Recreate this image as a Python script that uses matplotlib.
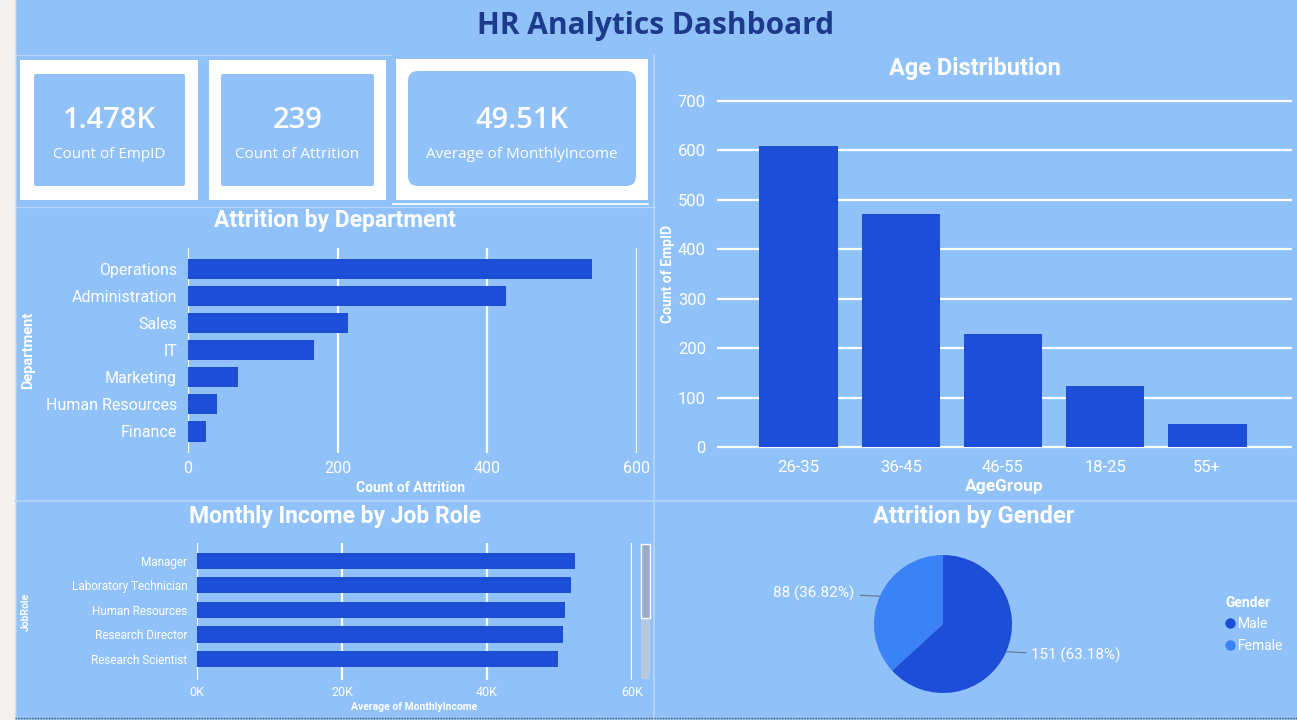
import matplotlib
matplotlib.use("Agg")
import matplotlib.pyplot as plt
import numpy as np
from matplotlib.patches import Rectangle, FancyBboxPatch
from matplotlib.lines import Line2D

W, H = 1297, 720

# ---- data ----
kpi_values = ["1.478K", "239", "49.51K"]
kpi_labels = ["Count of EmpID", "Count of Attrition", "Average of MonthlyIncome"]

departments = ["Operations", "Administration", "Sales", "IT", "Marketing",
               "Human Resources", "Finance"]
dept_attrition = [540, 425, 214, 169, 67, 39, 24]
dept_ticks = [0, 200, 400, 600]

age_groups = ["26-35", "36-45", "46-55", "18-25", "55+"]
age_counts = [609, 471, 228, 123, 47]
age_ticks = [0, 100, 200, 300, 400, 500, 600, 700]

job_roles = ["Manager", "Laboratory Technician", "Human Resources",
             "Research Director", "Research Scientist"]
job_income = [52100, 51600, 50700, 50500, 49800]
income_ticks = [0, 20000, 40000, 60000]
income_tick_labels = ["0K", "20K", "40K", "60K"]

genders = ["Male", "Female"]
gender_attrition = [151, 88]

# ---- colours / fonts ----
BG = "#90C2F9"
BAR = "#1D4ED8"
FEMALE = "#3B82F6"
NAVY = "#1E3A8A"
LINE = "#B7D6FB"
CHART_FONT = "Roboto"
KPI_FONT = "Open Sans"

plt.rcParams["font.family"] = [CHART_FONT, "DejaVu Sans"]

fig = plt.figure(figsize=(W / 100, H / 100), dpi=100)
fig.patch.set_facecolor(BG)

# background axes in pixel coordinates
bg = fig.add_axes([0, 0, 1, 1])
bg.set_xlim(0, W)
bg.set_ylim(H, 0)
bg.axis("off")

bg.add_patch(Rectangle((0, 0), 15, H, color="#F3F2F1", zorder=1))
bg.plot([15, 15], [0, H], color="#E1DFDD", lw=1)

# panel divider lines
bg.plot([15, 391], [55, 55], color=LINE, lw=0.8)
bg.plot([15, 655], [207, 207], color=LINE, lw=0.8)
bg.plot([393, 648], [204, 204], color="white", lw=1.2)
bg.plot([15, W], [501, 501], color=LINE, lw=1.2)
bg.plot([654, 654], [55, H], color=LINE, lw=1.2)
bg.plot([15, W], [718, 718], color="#555555", lw=1, ls=(0, (1, 1)))

bg.text(656, 26, "HR Analytics Dashboard", ha="center", va="center",
        fontsize=21.5, fontweight="bold", color=NAVY, family=KPI_FONT)

# ---- KPI cards ----
cards = [  # outer white frame, inner box, rounded radius
    ((20, 60, 198, 200), (34, 74, 185, 186), 2),
    ((209, 60, 386, 200), (221, 74, 374, 186), 2),
    ((396, 59, 648, 200), (408, 71, 636, 186), 10),
]
for (outer, inner, rad), val, lab in zip(cards, kpi_values, kpi_labels):
    ox0, oy0, ox1, oy1 = outer
    bg.add_patch(Rectangle((ox0, oy0), ox1 - ox0, oy1 - oy0,
                           facecolor="white", edgecolor="none", zorder=2))
    ix0, iy0, ix1, iy1 = inner
    bg.add_patch(FancyBboxPatch((ix0 + rad, iy0 + rad), ix1 - ix0 - 2 * rad,
                                iy1 - iy0 - 2 * rad,
                                boxstyle=f"round,pad={rad}",
                                facecolor=BG, edgecolor="none", zorder=3))
    cx = (ix0 + ix1) / 2
    bg.text(cx, 120, val, ha="center", va="center", fontsize=21,
            fontweight="semibold", color="white", family=KPI_FONT, zorder=4)
    bg.text(cx, 155, lab, ha="center", va="center", fontsize=11,
            color="white", family=KPI_FONT, zorder=4)


def add_px_axes(box):
    x0, y0, x1, y1 = box
    ax = fig.add_axes([x0 / W, 1 - y1 / H, (x1 - x0) / W, (y1 - y0) / H])
    ax.set_facecolor("none")
    for s in ax.spines.values():
        s.set_visible(False)
    ax.tick_params(length=0, colors="white")
    ax.set_axisbelow(True)
    return ax


def label_at(ax, box, which, text, px, py, **kw):
    x0, y0, x1, y1 = box
    fx = (px - x0) / (x1 - x0)
    fy = (y1 - py) / (y1 - y0)
    if which == "x":
        ax.set_xlabel(text, color="white", **kw)
        ax.xaxis.set_label_coords(fx, fy)
        ax.xaxis.label.set_va("center")
    else:
        ax.set_ylabel(text, color="white", **kw)
        ax.yaxis.set_label_coords(fx, fy)
        ax.yaxis.label.set_va("center")


# ---- Attrition by Department ----
bg.text(335, 220, "Attrition by Department", ha="center", va="center",
        fontsize=16.5, fontweight="bold", color="white")
dbox = (188, 248, 637, 453)
ax1 = add_px_axes(dbox)
ypos = np.arange(len(departments))
ax1.barh(ypos, dept_attrition, height=0.75, color=BAR, zorder=3)
ax1.set_xlim(0, 600)
ax1.set_ylim(len(departments) - 0.2, -0.78)
ax1.set_yticks(ypos, departments, fontsize=11.5)
ax1.set_xticks(dept_ticks)
ax1.tick_params(axis="x", labelsize=11.5, pad=6)
ax1.tick_params(axis="y", pad=8)
ax1.grid(axis="x", color="white", lw=1.6)
ax1.grid(axis="y", visible=False)
label_at(ax1, dbox, "x", "Count of Attrition", 411, 488,
         fontsize=10, fontweight="bold")
label_at(ax1, dbox, "y", "Department", 28, 350,
         fontsize=10.5, fontweight="bold")

# ---- Age Distribution ----
bg.text(975, 69, "Age Distribution", ha="center", va="center",
        fontsize=17, fontweight="bold", color="white")
abox = (717, 99, 1292, 449)
ax2 = add_px_axes(abox)
xpos = np.arange(len(age_groups))
ax2.bar(xpos, age_counts, width=0.77, color=BAR, zorder=3)
ax2.set_xlim(-0.8, 4.83)
ax2.set_ylim(-4, 704)
ax2.set_yticks(age_ticks)
ax2.set_xticks(xpos, age_groups)
ax2.tick_params(labelsize=12)
ax2.tick_params(axis="x", pad=8)
ax2.tick_params(axis="y", pad=8)
ax2.grid(axis="y", color="white", lw=1.6)
ax2.grid(axis="x", visible=False)
label_at(ax2, abox, "x", "AgeGroup", 1004, 487, fontsize=12.5, fontweight="bold")
label_at(ax2, abox, "y", "Count of EmpID", 668, 274,
         fontsize=10, fontweight="bold")

# ---- Monthly Income by Job Role ----
bg.text(335, 516, "Monthly Income by Job Role", ha="center", va="center",
        fontsize=16.5, fontweight="bold", color="white")
jbox = (197, 543, 632, 680)
ax3 = add_px_axes(jbox)
jpos = np.arange(len(job_roles))
ax3.barh(jpos, job_income, height=0.66, color=BAR, zorder=3)
ax3.set_xlim(0, 60000)
ax3.set_ylim(len(job_roles) - 0.14, -0.73)
ax3.set_yticks(jpos, job_roles, fontsize=8.5)
ax3.set_xticks(income_ticks, income_tick_labels, fontsize=9)
ax3.tick_params(axis="x", pad=4)
ax3.tick_params(axis="y", pad=7)
ax3.grid(axis="x", color="white", lw=1.6)
ax3.grid(axis="y", visible=False)
label_at(ax3, jbox, "x", "Average of MonthlyIncome", 414, 707,
         fontsize=7.5, fontweight="bold")
label_at(ax3, jbox, "y", "JobRole", 26, 612, fontsize=7.5, fontweight="bold")

# scrollbar of the job role visual
bg.add_patch(Rectangle((641, 544), 9, 135, facecolor="#B5C9E2",
                       edgecolor="none", zorder=2))
bg.add_patch(Rectangle((641, 544), 9, 74, facecolor="#9AADC6",
                       edgecolor="white", lw=1, zorder=3))

# ---- Attrition by Gender ----
bg.text(974, 517, "Attrition by Gender", ha="center", va="center",
        fontsize=17, fontweight="bold", color="white")
r = 69
cxp, cyp = 943, 624
pbox = (cxp - 1.25 * r, cyp - 1.25 * r, cxp + 1.25 * r, cyp + 1.25 * r)
ax4 = add_px_axes(pbox)
order = [1, 0]  # Female first, counter-clockwise from 12 o'clock
vals = [gender_attrition[i] for i in order]
cols = [FEMALE, BAR]
wedges, _ = ax4.pie(vals, colors=cols, startangle=90, counterclock=True,
                    wedgeprops=dict(linewidth=0))
total = sum(gender_attrition)
for w, v in zip(wedges, vals):
    ang = np.deg2rad((w.theta1 + w.theta2) / 2)
    ex, ey = np.cos(ang), np.sin(ang)
    side = np.sign(ex)
    ax4.annotate(f"{v} ({v / total * 100:.2f}%)", xy=(ex, ey),
                 xytext=(side * 1.28, ey * 1.12),
                 ha="left" if side > 0 else "right", va="center",
                 fontsize=11, color="white", annotation_clip=False,
                 arrowprops=dict(arrowstyle="-", color="#6B7B8C", lw=0.9,
                                 shrinkA=2, shrinkB=0))

handles = [Line2D([], [], marker="o", ls="", markersize=7.5,
                  markerfacecolor=c, markeredgewidth=0)
           for c in [BAR, FEMALE]]
leg = fig.legend(handles, genders, title="Gender", loc="upper left",
                 bbox_to_anchor=(1220 / W, 1 - 590 / H), frameon=False,
                 handlelength=0.7, handletextpad=0.2, labelspacing=0.55,
                 fontsize=10, alignment="left", borderaxespad=0)
leg.get_title().set_color("white")
leg.get_title().set_fontweight("bold")
leg.get_title().set_fontsize(10)
for t in leg.get_texts():
    t.set_color("white")

fig.savefig("out.png", dpi=100, facecolor=BG)
